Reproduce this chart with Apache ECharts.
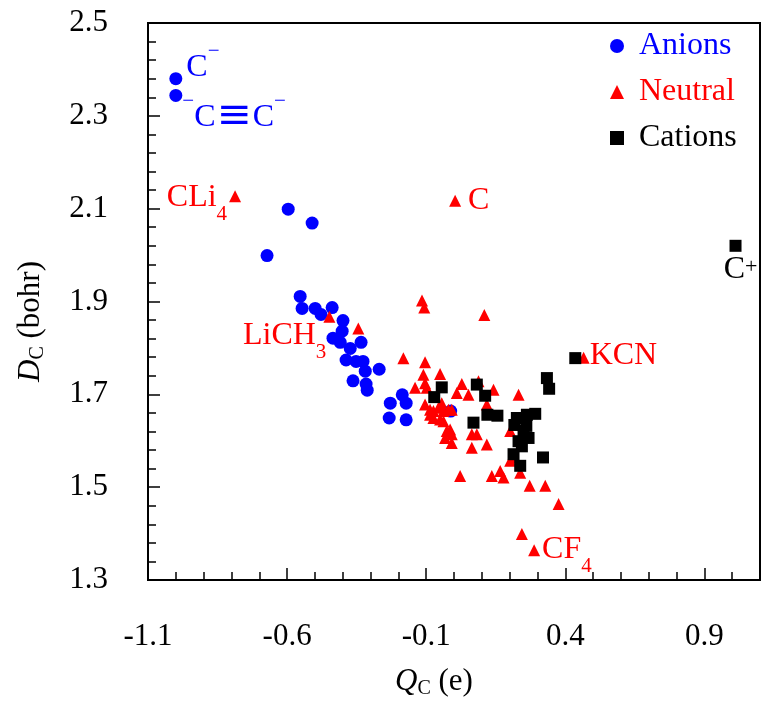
<!DOCTYPE html>
<html>
<head>
<meta charset="utf-8">
<script src="https://cdn.jsdelivr.net/npm/echarts@6/dist/echarts.min.js"></script>
<style>
  html, body { margin: 0; padding: 0; background: #fff; }
  #chart { width: 762px; height: 704px; }
</style>
</head>
<body>
<div id="chart"></div>
<script>
// ---- Data: [Q_C (e), D_C (bohr)] ----
const anions = [
  [-1.000, 2.380], [-1.000, 2.344], [-0.596, 2.099], [-0.510, 2.069], [-0.672, 1.999],
  [-0.553, 1.911], [-0.546, 1.885], [-0.499, 1.885], [-0.478, 1.872], [-0.438, 1.887],
  [-0.399, 1.859], [-0.402, 1.836], [-0.435, 1.821], [-0.409, 1.812], [-0.373, 1.799],
  [-0.334, 1.812], [-0.388, 1.774], [-0.352, 1.771], [-0.327, 1.771], [-0.319, 1.750],
  [-0.269, 1.754], [-0.363, 1.729], [-0.316, 1.722], [-0.312, 1.709], [-0.229, 1.681],
  [-0.186, 1.699], [-0.172, 1.681], [-0.233, 1.649], [-0.172, 1.645], [-0.012, 1.664]
];
const neutral = [
  [-0.787, 2.127], [0.004, 2.117], [-0.448, 1.867], [-0.344, 1.842], [-0.115, 1.902],
  [-0.107, 1.887], [0.109, 1.871], [-0.182, 1.778], [-0.104, 1.769], [-0.050, 1.744],
  [-0.110, 1.742], [-0.104, 1.724], [-0.098, 1.714], [-0.140, 1.714], [0.028, 1.722],
  [0.010, 1.703], [0.052, 1.699], [0.088, 1.728], [0.142, 1.710], [0.118, 1.678],
  [0.232, 1.699], [-0.104, 1.678], [-0.086, 1.667], [-0.074, 1.664], [-0.056, 1.671],
  [-0.044, 1.681], [-0.038, 1.664], [-0.020, 1.667], [-0.008, 1.667], [-0.086, 1.656],
  [-0.074, 1.649], [-0.050, 1.646], [-0.038, 1.642], [-0.026, 1.621], [-0.014, 1.624],
  [-0.008, 1.614], [-0.032, 1.606], [-0.008, 1.595], [0.064, 1.614], [0.082, 1.614],
  [0.064, 1.585], [0.118, 1.592], [0.202, 1.621], [0.202, 1.557], [0.214, 1.564],
  [0.022, 1.524], [0.136, 1.524], [0.166, 1.535], [0.178, 1.521], [0.238, 1.531],
  [0.272, 1.503], [0.328, 1.503], [0.376, 1.464], [0.244, 1.399], [0.288, 1.364],
  [0.466, 1.779]
];
const cations = [
  [-0.044, 1.715], [-0.071, 1.694], [0.082, 1.721], [0.112, 1.697], [0.120, 1.656],
  [0.156, 1.654], [0.070, 1.639], [0.226, 1.649], [0.262, 1.656], [0.292, 1.658],
  [0.217, 1.634], [0.260, 1.632], [0.250, 1.621], [0.232, 1.599], [0.268, 1.606],
  [0.244, 1.588], [0.214, 1.571], [0.238, 1.546], [0.320, 1.564], [0.334, 1.735],
  [0.342, 1.712], [0.436, 1.778], [1.012, 2.020]
];
const seriesNames = ['Anions', 'Neutral', 'Cations'];
const xMajorTicks = ['-1.1', '-0.6', '-0.1', '0.4', '0.9'];
const yMajorTicks = ['1.3', '1.5', '1.7', '1.9', '2.1', '2.3', '2.5'];

// ---- Annotation texts (index into the series arrays) ----
const anionNotes = { 0: '{m|C}{sup|−}', 1: '{sup|−}{m|C}{tb|≡}{m|C}{sup|−}' };
const neutralNotes = { 0: '{m|CLi}{sub|4}', 1: '{m|C}', 2: '{m|LiCH}{sub|3}', 54: '{m|CF}{sub|4}', 55: '{m|KCN}' };
const cationNotes = { 22: '{m|C}{sup2|+}' };

const F = 'Liberation Serif';
const rich = {
  m: { fontSize: 32, fontFamily: F },
  tb: { fontSize: 42, fontFamily: 'DejaVu Serif', padding: [0, 1, 0, 1] },
  sub: { fontSize: 21, fontFamily: F, padding: [34, 0, 0, 0] },
  sup: { fontSize: 21, fontFamily: F, padding: [0, 0, 32, 0] },
  sup2: { fontSize: 22, fontFamily: F, padding: [0, 0, 6, 0] }
};
const labelPlacement = {
  Anions: { 0: { position: 'right', distance: 4, offset: [0, -11] }, 1: { position: 'right', distance: 0, offset: [0, 22] } },
  Neutral: {
    0: { position: 'left', distance: 2, offset: [0, 1] },
    1: { position: 'right', distance: 7, offset: [0, 0] },
    2: { position: 'left', distance: 0, offset: [3, 19] },
    54: { position: 'right', distance: 2, offset: [0, -1] },
    55: { position: 'right', distance: 0, offset: [0, -2] }
  },
  Cations: { 22: { position: 'bottom', distance: 2, offset: [5, 0] } }
};

function buildData(points, notes, name, color) {
  return points.map((p, i) => {
    if (notes[i] === undefined) return p;
    const pl = labelPlacement[name][i];
    return {
      value: p,
      label: {
        show: true, position: pl.position, distance: pl.distance, offset: pl.offset,
        formatter: notes[i], color: color, rich: rich
      }
    };
  });
}

const chart = echarts.init(document.getElementById('chart'), null, { renderer: 'canvas' });
const tickStyle = { color: '#000', width: 1.5 };
const nameRich = {
  i: { fontSize: 31, fontFamily: F, fontStyle: 'italic', color: '#000' },
  s: { fontSize: 20, fontFamily: F, color: '#000', padding: [14, 0, 0, 0] },
  n: { fontSize: 31, fontFamily: F, color: '#000' }
};
const option = {
  animation: false,
  backgroundColor: '#ffffff',
  textStyle: { fontFamily: F },
  grid: { left: 148, right: 2, top: 23, bottom: 121, show: true, borderColor: '#000', borderWidth: 2, backgroundColor: 'transparent' },
  legend: {
    orient: 'vertical', left: 610, top: 30, padding: 0, itemGap: 14,
    itemWidth: 14, itemHeight: 14,
    textStyle: { fontSize: 32, fontFamily: F, lineHeight: 30, padding: [0, 0, 0, 10] },
    data: [
      { name: seriesNames[0], textStyle: { color: '#0000ff', fontFamily: F, fontSize: 32 } },
      { name: seriesNames[1], textStyle: { color: '#ff0000', fontFamily: F, fontSize: 32 } },
      { name: seriesNames[2], textStyle: { color: '#000000', fontFamily: F, fontSize: 32 } }
    ]
  },
  xAxis: [
    {
      type: 'value', min: -1.1, max: 1.1, interval: 0.5, position: 'bottom',
      axisLine: { show: false, onZero: false }, splitLine: { show: false },
      axisTick: { show: true, inside: true, length: 12, lineStyle: tickStyle },
      axisLabel: {
        margin: 41, fontSize: 31, fontFamily: F, color: '#000', showMaxLabel: false,
        formatter: v => { const s = v.toFixed(1); return xMajorTicks.indexOf(s) >= 0 ? s : ''; }
      },
      name: '{i|Q}{s|C}{n| (e)}', nameLocation: 'middle', nameGap: 85,
      nameTextStyle: { padding: [0, 40, 0, 0], fontFamily: F, rich: nameRich }
    },
    {
      type: 'value', min: -1.1, max: 1.1, interval: 0.1, position: 'bottom',
      axisLine: { show: false, onZero: false }, splitLine: { show: false },
      axisTick: { show: true, inside: true, length: 8, lineStyle: tickStyle },
      axisLabel: { show: false }
    }
  ],
  yAxis: [
    {
      type: 'value', min: 1.3, max: 2.5, interval: 0.2, position: 'left',
      axisLine: { show: false, onZero: false }, splitLine: { show: false },
      axisTick: { show: true, inside: true, length: 12, lineStyle: tickStyle },
      axisLabel: {
        margin: 40, fontSize: 31, fontFamily: F, color: '#000',
        formatter: v => { const s = v.toFixed(1); return yMajorTicks.indexOf(s) >= 0 ? s : ''; }
      },
      name: '{i|D}{s|C}{n| (bohr)}', nameLocation: 'middle', nameGap: 100,
      nameTextStyle: { padding: [0, 40, 0, 0], fontFamily: F, rich: nameRich }
    },
    {
      type: 'value', min: 1.3, max: 2.5, interval: 0.04, position: 'left',
      axisLine: { show: false, onZero: false }, splitLine: { show: false },
      axisTick: { show: true, inside: true, length: 8, lineStyle: tickStyle },
      axisLabel: { show: false }
    }
  ],
  series: [
    {
      name: seriesNames[0], type: 'scatter', symbol: 'circle', symbolSize: 13,
      itemStyle: { color: '#0000ff', opacity: 1 },
      data: buildData(anions, anionNotes, 'Anions', '#0000ff')
    },
    {
      name: seriesNames[1], type: 'scatter', symbol: 'triangle', symbolSize: 12,
      itemStyle: { color: '#ff0000', opacity: 1 },
      data: buildData(neutral, neutralNotes, 'Neutral', '#ff0000')
    },
    {
      name: seriesNames[2], type: 'scatter', symbol: 'rect', symbolSize: 12,
      itemStyle: { color: '#000000', opacity: 1 },
      data: buildData(cations, cationNotes, 'Cations', '#000000')
    }
  ]
};
chart.setOption(option);
</script>
</body>
</html>
